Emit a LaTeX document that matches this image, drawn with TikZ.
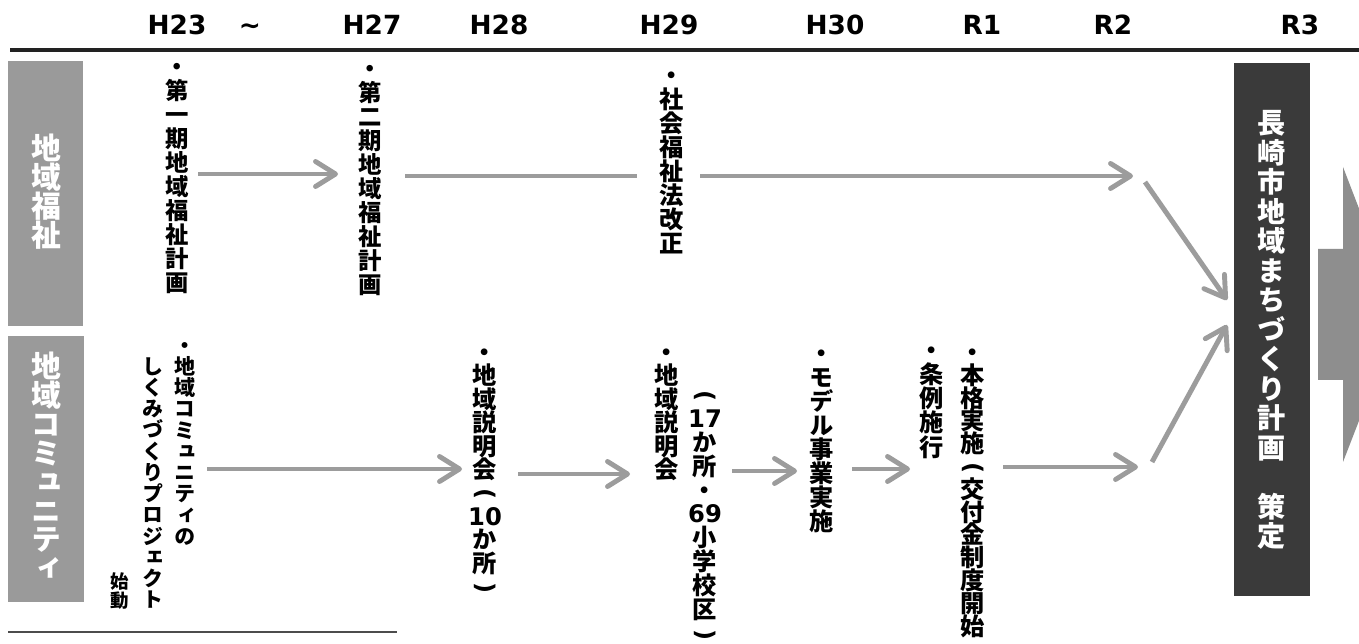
\documentclass[tikz,border=0pt]{standalone}
\usepackage{fontspec}
\usepackage{graphicx}
\newfontfamily\jp{Noto Sans CJK JP}[RawFeature={+vert}]
\newfontfamily\dv{DejaVu Sans}
\usetikzlibrary{arrows.meta}
\definecolor{boxgray}{HTML}{9A9A9A}
\definecolor{arrgray}{HTML}{9C9C9C}
\definecolor{darkbox}{HTML}{3A3A3A}
\definecolor{bigarrow}{HTML}{8E8E8E}
\definecolor{rule}{HTML}{222222}
% vertical stacking of characters
\def\vtloop#1{\ifx\relax#1\else\hbox{\rule[-0.12em]{0pt}{1em}\hbox to 1.1em{\hss#1\hss}}\expandafter\vtloop\fi}
\newcommand\vcol[3]{\vbox{\fontsize{#1}{#2}\selectfont\baselineskip=#2\relax\lineskiplimit=-\maxdimen\lineskip=0pt\relax\vtloop#3\relax}}
\newcommand\dg[1]{{\dv\bfseries #1}}
\newcommand\vpo{\rotatebox[origin=c]{-90}{\dv(}}
\newcommand\vpc{\rotatebox[origin=c]{-90}{\dv)}}
\begin{document}
\begin{tikzpicture}[x=0.02cm,y=-0.02cm,
  hdr/.style={font=\dv\bfseries\fontsize{15}{18}\selectfont, anchor=base, inner sep=0pt},
  lane/.style={fill=boxgray, draw=none},
  vtn/.style={inner sep=0pt, anchor=north, font=\jp\bfseries},
  lanetext/.style={inner sep=0pt, anchor=north, font=\jp\bfseries, text=white},
  flow/.style={draw=arrgray, line width=2.8pt, -{Straight Barb[length=0.4cm,width=0.5cm,round]}},
  plain/.style={draw=arrgray, line width=2.8pt}]
\useasboundingbox (0,0) rectangle (1359,644);
\fill[white] (0,0) rectangle (1359,644);

% header
\node[hdr] (h23) at (177,35) {H23};
\node[hdr] (til) at (250,35) {\textasciitilde};
\node[hdr] (h27) at (372,35) {H27};
\node[hdr] (h28) at (499,35) {H28};
\node[hdr] (h29) at (669,35) {H29};
\node[hdr] (h30) at (835,35) {H30};
\node[hdr] (r1) at (982,35) {R1};
\node[hdr] (r2) at (1113,35) {R2};
\node[hdr] (r3) at (1300,35) {R3};
\draw[rule, line width=2.8pt] (10,50) -- (1359,50);

% lane boxes
\fill[lane] (8,61) rectangle (83,326);
\fill[lane] (8,336) rectangle (84,602);
\node[lanetext] (lw) at (46,133) {\vcol{17pt}{16.44pt}{地域福祉}};
\node[lanetext] (lc) at (46,351) {\vcol{17pt}{16.44pt}{地域コミュニティ}};

% top row texts
\node[vtn] (t1) at (177,54.3) {\vcol{13.3pt}{13.66pt}{・第一期地域福祉計画}};
\node[vtn] (t2) at (370,56.3) {\vcol{13.3pt}{13.66pt}{・第二期地域福祉計画}};
\node[vtn] (t3) at (672,62.8) {\vcol{13.8pt}{13.66pt}{・社会福祉法改正}};

% bottom row texts
\node[vtn] (c1) at (185,334.4) {\vcol{12pt}{12.08pt}{・地域コミュニティの}};
\node[vtn] (c2) at (153,355.4) {\vcol{12pt}{12.08pt}{しくみづくりプロジェクト}};
\node[vtn] (c3) at (120,571.7) {\vcol{10.5pt}{10.77pt}{始動}};
\node[vtn] (c4) at (485,339.8) {\vcol{13.8pt}{13.32pt}{・地域説明会{\vpo}{\dg{10}}か所{\vpc}}};
\node[vtn] (c5) at (667,339.8) {\vcol{13.8pt}{13.32pt}{・地域説明会}};
\node[vtn] (c6) at (705,381.8) {\vcol{13.8pt}{13.6pt}{{\vpo}{\dg{17}}か所・{\dg{69}}小学校区{\vpc}}};
\node[vtn] (c7) at (822,340.8) {\vcol{13.8pt}{13.66pt}{・モデル事業実施}};
\node[vtn] (c8) at (932,337.8) {\vcol{13.8pt}{13.75pt}{・条例施行}};
\node[vtn] (c9) at (973,339.8) {\vcol{13.8pt}{12.98pt}{・本格実施{\vpo}交付金制度開始{\vpc}}};

% result box
\fill[darkbox] (1234,63) rectangle (1310,596);
\node[lanetext] (plan) at (1272,108.9) {\vcol{16pt}{16.78pt}{長崎市地域まちづくり計画{\phantom{定}}策定}};

% big arrow
\fill[bigarrow] (1318,249) -- (1343,249) -- (1343,167) -- (1400,315) -- (1343,462) -- (1343,380) -- (1318,380) -- cycle;

% connector points
\coordinate (a1s) at (198,174); \coordinate (a1e) at (338,174);
\coordinate (l2s) at (405,176); \coordinate (l2e) at (637,176);
\coordinate (a3s) at (700,176); \coordinate (a3e) at (1133,176);
\coordinate (d1s) at (1145,182); \coordinate (d1e) at (1227,300);
\coordinate (b1s) at (207,469); \coordinate (b1e) at (462,469);
\coordinate (b2s) at (518,474); \coordinate (b2e) at (630,474);
\coordinate (b3s) at (732,471); \coordinate (b3e) at (797,471);
\coordinate (b4s) at (852,469); \coordinate (b4e) at (910,469);
\coordinate (b5s) at (1003,467); \coordinate (b5e) at (1138,467);
\coordinate (d2s) at (1152,462); \coordinate (d2e) at (1227,325);

\draw[flow] (a1s) -- (a1e);
\draw[plain] (l2s) -- (l2e);
\draw[flow] (a3s) -- (a3e);
\draw[flow] (d1s) -- (d1e);
\draw[flow] (b1s) -- (b1e);
\draw[flow] (b2s) -- (b2e);
\draw[flow] (b3s) -- (b3e);
\draw[flow] (b4s) -- (b4e);
\draw[flow] (b5s) -- (b5e);
\draw[flow] (d2s) -- (d2e);

% bottom thin rule
\coordinate (bl1) at (8,632); \coordinate (bl2) at (397,632);
\draw[draw=black!70, line width=1.1pt] (bl1) -- (bl2);
\end{tikzpicture}
\end{document}
